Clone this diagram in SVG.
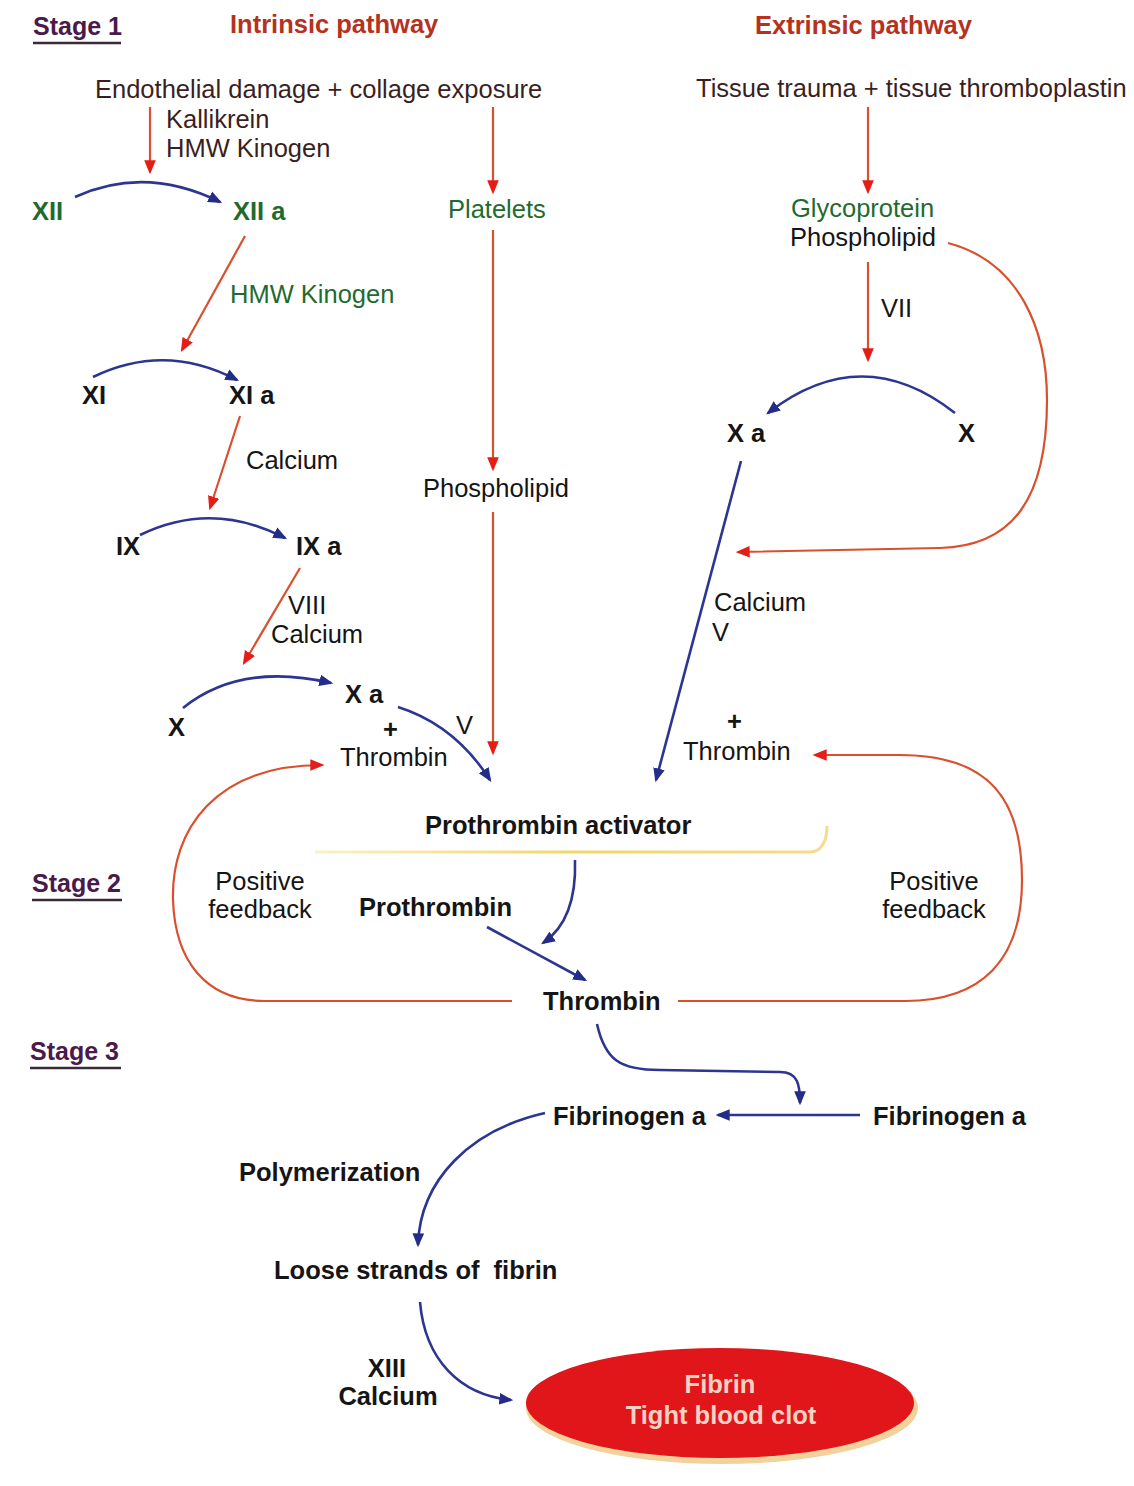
<svg xmlns="http://www.w3.org/2000/svg" width="1134" height="1486" viewBox="0 0 1134 1486">
<style>
text{font-family:"Liberation Sans",Arial,sans-serif;font-size:25.5px;fill:#151515}
.b{font-weight:bold}
.g{fill:#1f6b2f}
.br{fill:#3b1f1f}
.t{fill:#b5321e;font-weight:bold}
.st{fill:#4a1a4a;font-weight:bold;font-size:25px}
.c{text-anchor:middle}
.r{fill:none;stroke:#d8502e;stroke-width:2.2}
.u{fill:none;stroke:#2c3590;stroke-width:2.6}
.ul{stroke:#3a2a3a;stroke-width:2.5}
</style>
<defs>
<marker id="ar" viewBox="0 0 12 12" refX="10" refY="6" markerWidth="14" markerHeight="14" markerUnits="userSpaceOnUse" orient="auto"><path d="M0,1 L12,6 L0,11 z" fill="#e41e16"/></marker>
<marker id="ab" viewBox="0 0 12 12" refX="10" refY="6" markerWidth="14" markerHeight="14" markerUnits="userSpaceOnUse" orient="auto"><path d="M0,1 L12,6 L0,11 z" fill="#232c86"/></marker>
<linearGradient id="yl" x1="0" y1="0" x2="1" y2="0"><stop offset="0" stop-color="#fbf1c8"/><stop offset="0.5" stop-color="#f1d66a"/><stop offset="1" stop-color="#f4dc8a"/></linearGradient>
</defs>
<rect width="1134" height="1486" fill="#ffffff"/>

<g id="headers">
<text class="st" x="33" y="35">Stage 1</text><line class="ul" x1="33" y1="43" x2="121" y2="43"/>
<text class="t" x="230" y="33">Intrinsic pathway</text>
<text class="t" x="755" y="34">Extrinsic pathway</text>
<text class="st" x="32" y="892">Stage 2</text><line class="ul" x1="32" y1="900" x2="122" y2="900"/>
<text class="st" x="30" y="1060">Stage 3</text><line class="ul" x1="30" y1="1068" x2="121" y2="1068"/>
</g>

<g id="connectors">
<path class="r" d="M150,107 V172" marker-end="url(#ar)"/>
<path class="r" d="M493,107 V192" marker-end="url(#ar)"/>
<path class="r" d="M245,236 L182,350" marker-end="url(#ar)"/>
<path class="r" d="M493,230 V469" marker-end="url(#ar)"/>
<path class="r" d="M240,416 L210,508" marker-end="url(#ar)"/>
<path class="r" d="M300,568 L244,663" marker-end="url(#ar)"/>
<path class="r" d="M493,512 V753" marker-end="url(#ar)"/>
<path class="r" d="M868,107 V192" marker-end="url(#ar)"/>
<path class="r" d="M868,262 V360" marker-end="url(#ar)"/>
<path class="r" d="M948,243 C1020,262 1047,330 1047,400 C1047,500 1012,546 940,548 L738,552" marker-end="url(#ar)"/>
<path class="r" d="M512,1001 L265,1001 C205,1001 175,960 173,900 C171,830 215,765 322,765" marker-end="url(#ar)"/>
<path class="r" d="M678,1001 L905,1001 C982,1001 1022,960 1022,880 C1022,800 990,755 900,755 L815,755" marker-end="url(#ar)"/>

<path class="u" d="M75,197 Q145,165 220,202" marker-end="url(#ab)"/>
<path class="u" d="M93,377 Q165,342 237,380" marker-end="url(#ab)"/>
<path class="u" d="M140,535 Q212,500 285,538" marker-end="url(#ab)"/>
<path class="u" d="M183,708 Q240,662 331,683" marker-end="url(#ab)"/>
<path class="u" d="M398,707 Q455,725 490,780" marker-end="url(#ab)"/>
<path class="u" d="M955,413 Q862,340 768,413" marker-end="url(#ab)"/>
<path class="u" d="M741,461 L656,780" marker-end="url(#ab)"/>
<path class="u" d="M575,860 Q577,920 543,943" marker-end="url(#ab)"/>
<path class="u" d="M487,927 L585,980" marker-end="url(#ab)"/>
<path class="u" d="M597,1024 C605,1060 620,1070 660,1070 L780,1072 C798,1072 800,1085 800,1103" marker-end="url(#ab)"/>
<path class="u" d="M860,1115 L718,1115" marker-end="url(#ab)"/>
<path class="u" d="M545,1113 C470,1130 420,1180 418,1245" marker-end="url(#ab)"/>
<path class="u" d="M420,1302 C425,1360 460,1395 511,1400" marker-end="url(#ab)"/>
<path d="M315,852 L810,852 C822,852 827,840 827,826" fill="none" stroke="url(#yl)" stroke-width="3"/>
</g>

<g id="intrinsic">
<text class="br" x="95" y="98">Endothelial damage + collage exposure</text>
<text class="br" x="166" y="128">Kallikrein</text>
<text class="br" x="166" y="157">HMW Kinogen</text>
<text class="b g" x="32" y="220">XII</text>
<text class="b g" x="233" y="220">XII a</text>
<text class="g" x="230" y="303">HMW Kinogen</text>
<text class="b" x="82" y="404">XI</text>
<text class="b" x="229" y="404">XI a</text>
<text x="246" y="469">Calcium</text>
<text class="b" x="116" y="555">IX</text>
<text class="b" x="296" y="555">IX a</text>
<text x="288" y="614">VIII</text>
<text x="271" y="643">Calcium</text>
<text class="b" x="168" y="736">X</text>
<text class="b" x="345" y="703">X a</text>
<text class="b" x="383" y="738">+</text>
<text x="340" y="766">Thrombin</text>
<text x="456" y="734">V</text>
</g>

<g id="platelets">
<text class="g" x="448" y="218">Platelets</text>
<text x="423" y="497">Phospholipid</text>
</g>

<g id="extrinsic">
<text class="br" x="696" y="97">Tissue trauma + tissue thromboplastin</text>
<text class="g" x="791" y="217">Glycoprotein</text>
<text x="790" y="246">Phospholipid</text>
<text x="881" y="317">VII</text>
<text class="b" x="727" y="442">X a</text>
<text class="b" x="958" y="442">X</text>
<text x="714" y="611">Calcium</text>
<text x="712" y="641">V</text>
<text class="b" x="727" y="730">+</text>
<text x="683" y="760">Thrombin</text>
</g>

<g id="stage2">
<text class="b" x="425" y="834">Prothrombin activator</text>
<text class="c" x="260" y="890">Positive</text>
<text class="c" x="260" y="918">feedback</text>
<text class="c" x="934" y="890">Positive</text>
<text class="c" x="934" y="918">feedback</text>
<text class="b" x="359" y="916">Prothrombin</text>
<text class="b" x="543" y="1010">Thrombin</text>
</g>

<g id="stage3">
<text class="b" x="553" y="1125">Fibrinogen a</text>
<text class="b" x="873" y="1125">Fibrinogen a</text>
<text class="b" x="239" y="1181">Polymerization</text>
<text class="b" x="274" y="1279" style="white-space:pre">Loose strands of  fibrin</text>
<text class="b c" x="387" y="1377">XIII</text>
<text class="b c" x="388" y="1405">Calcium</text>
</g>

<g id="clot">
<ellipse cx="722" cy="1408" rx="196" ry="56" fill="#f2d29c"/>
<ellipse cx="720" cy="1403" rx="194" ry="55" fill="#e0161a"/>
<text class="b c" x="720" y="1393" style="fill:#f6d2c4">Fibrin</text>
<text class="b c" x="721" y="1424" style="fill:#f6d2c4">Tight blood clot</text>
</g>
</svg>
